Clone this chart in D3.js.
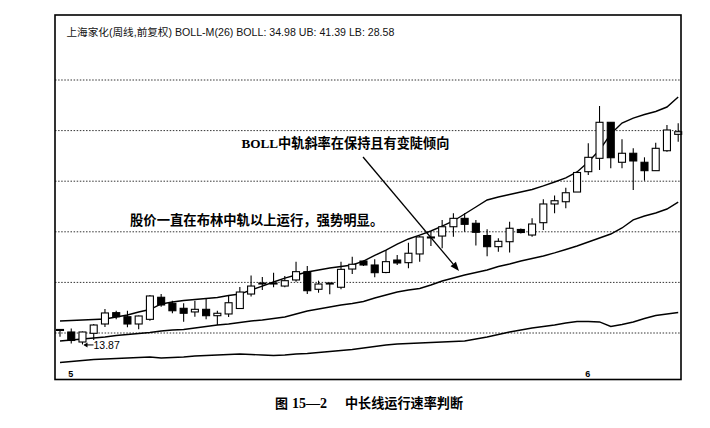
<!DOCTYPE html>
<html><head><meta charset="utf-8">
<script src="https://cdn.jsdelivr.net/npm/d3@7/dist/d3.min.js"></script>
<style>html,body{margin:0;padding:0;background:#fff;} svg{display:block;}</style>
</head><body>
<svg id="c" width="710" height="428"></svg>
<script>
// ---- data (weekly candles, price units) ----
const titleText = "上海家化(周线,前复权) BOLL-M(26) BOLL: 34.98 UB: 41.39 LB: 28.58";
const opens  = [15.25,15.10,14.11,14.97,15.89,17.01,16.61,15.89,16.35,18.53,17.93,17.44,17.08,17.34,16.71,16.88,17.42,18.85,19.89,19.89,19.64,20.24,21.06,19.32,19.84,19.52,21.32,22.11,21.72,20.98,22.21,21.95,22.81,24.39,24.58,25.50,26.33,25.84,24.63,23.53,24.02,25.23,24.68,25.90,27.75,27.97,28.93,30.94,32.26,35.82,31.87,32.76,31.87,31.04,33.01,34.63];
const closes = [15.35,14.26,15.10,15.79,16.98,16.61,15.89,16.68,18.66,17.77,17.20,16.95,17.34,16.71,16.95,17.99,19.05,19.64,19.94,19.94,20.17,21.06,19.18,19.84,19.94,21.29,21.79,21.72,20.96,22.05,21.92,22.88,24.49,24.49,25.50,26.33,25.74,24.95,23.53,24.06,25.35,24.93,25.77,27.75,28.07,28.86,30.86,32.36,35.82,32.32,32.76,32.00,31.04,33.25,35.06,34.89];
const highs  = [15.40,15.44,15.15,15.89,17.37,17.20,17.20,16.73,18.75,18.85,18.19,17.93,18.19,18.43,17.20,18.66,19.55,20.68,20.53,20.96,20.63,22.05,21.62,20.17,19.97,22.05,22.54,22.16,22.28,23.20,22.71,23.92,24.58,25.01,26.17,26.83,26.83,26.17,25.25,24.36,26.00,25.33,26.33,28.21,28.59,29.35,30.86,33.75,37.43,35.82,34.14,33.25,32.36,33.80,35.55,35.72];
const lows   = [14.63,13.96,13.87,14.31,15.59,16.35,15.56,15.37,16.22,17.60,16.95,16.12,16.61,16.35,15.79,16.58,17.37,18.61,19.25,19.52,19.52,20.07,18.85,18.98,18.82,19.32,20.83,21.62,20.50,20.90,21.72,21.39,22.05,23.60,23.37,24.52,25.01,23.65,22.58,23.03,22.95,24.83,24.52,25.18,26.83,27.32,28.93,30.61,31.11,31.27,31.27,29.13,30.05,31.04,32.92,33.90];
const upperLine  = [16.19,16.24,16.28,16.33,16.38,16.58,16.78,17.08,17.32,17.87,18.06,18.21,18.31,18.41,18.51,18.71,18.85,19.25,19.64,20.04,20.43,20.73,21.03,21.23,21.42,21.57,21.72,22.11,22.66,23.20,23.79,24.29,24.68,25.08,25.57,26.07,26.76,27.45,28.14,28.44,28.69,28.93,29.18,29.53,29.92,30.32,30.91,31.90,33.08,34.66,35.75,36.24,36.59,36.89,37.33,38.32];
const middleLine = [14.21,14.31,14.41,14.51,14.60,14.75,14.85,14.95,15.05,15.20,15.30,15.35,15.49,15.64,15.79,15.89,16.04,16.19,16.28,16.43,16.58,16.88,17.17,17.37,17.57,17.77,17.91,18.11,18.46,18.75,19.05,19.25,19.40,19.74,20.14,20.43,20.73,20.98,21.23,21.57,21.82,22.11,22.36,22.61,22.91,23.25,23.60,23.99,24.39,24.78,25.38,26.17,26.56,26.86,27.25,27.94];
const lowerLine  = [12.09,12.18,12.28,12.38,12.43,12.48,12.53,12.58,12.63,12.53,12.58,12.63,12.73,12.78,12.83,12.88,12.92,12.88,12.83,12.78,12.83,12.92,12.97,13.07,13.17,13.27,13.37,13.52,13.66,13.81,13.91,13.96,14.01,14.06,14.11,14.16,14.21,14.41,14.60,14.85,15.10,15.30,15.49,15.64,15.79,15.99,16.14,16.14,16.09,15.64,15.84,16.09,16.43,16.73,16.88,17.03];
const gridPrices = [15, 20, 25, 30, 35, 40];
const xTickIndex = [1, 47];
const xTickLabels = ["5", "6"];
const lowMarkIndex = 2;
const lowMarkLabel = "13.87";
const noteSlope = "BOLL中轨斜率在保持且有变陡倾向";
const noteAbove = "股价一直在布林中轨以上运行，强势明显。";
const captionFig = "图";
const captionNum = "15—2";
const captionText = "中长线运行速率判断";

// ---- drawing ----
const svg = d3.select("#c");
const frame = {l: 55, t: 15, r: 681, b: 379.5};
const x = d3.scaleLinear().domain([0, opens.length - 1]).range([60, 678.2]);
const y = d3.scaleLinear().domain([15, 40]).range([333, 80]);

function fit(sel, w) {
  const fs = +sel.attr("font-size");
  const len = sel.node().getComputedTextLength();
  if (len > 0) sel.attr("font-size", (fs * w / len).toFixed(2));
  return sel;
}

// grid
svg.append("g").selectAll("line").data(gridPrices).join("line")
  .attr("x1", frame.l).attr("x2", frame.r)
  .attr("y1", d => y(d)).attr("y2", d => y(d))
  .attr("stroke", "#333").attr("stroke-width", 1)
  .attr("stroke-dasharray", "1.5,1.6");

// bands
const line = d3.line().x((d, i) => x(i)).y(d => y(d));
[upperLine, middleLine, lowerLine].forEach(arr => {
  svg.append("path").attr("d", line(arr)).attr("fill", "none")
    .attr("stroke", "#000").attr("stroke-width", 1.4);
});

// candles
const idx = d3.range(opens.length);
const cg = svg.append("g");
cg.selectAll("line").data(idx).join("line")
  .attr("x1", i => x(i)).attr("x2", i => x(i))
  .attr("y1", i => y(highs[i])).attr("y2", i => y(lows[i]))
  .attr("stroke", "#000").attr("stroke-width", 1.1);
const bw = 7;
cg.selectAll("rect").data(idx).join("rect")
  .attr("x", i => x(i) - bw / 2)
  .attr("width", bw)
  .attr("y", i => y(Math.max(opens[i], closes[i])))
  .attr("height", i => Math.max(1, Math.abs(y(opens[i]) - y(closes[i]))))
  .attr("fill", i => closes[i] >= opens[i] ? "#fff" : "#000")
  .attr("stroke", "#000").attr("stroke-width", 1.1);

// frame
svg.append("rect").attr("x", frame.l).attr("y", frame.t)
  .attr("width", frame.r - frame.l).attr("height", frame.b - frame.t)
  .attr("fill", "none").attr("stroke", "#000").attr("stroke-width", 1.6);

// header
fit(svg.append("text").attr("x", 66.5).attr("y", 36)
  .attr("font-family", "'Liberation Sans','Noto Sans CJK SC',sans-serif")
  .attr("font-size", 10.5).attr("fill", "#111").text(titleText), 328);

// low label
const lx = x(lowMarkIndex), ly = y(lows[lowMarkIndex]) + 0.5;
svg.append("line").attr("x1", lx + 2).attr("x2", lx + 11).attr("y1", ly).attr("y2", ly)
  .attr("stroke", "#000").attr("stroke-width", 1);
svg.append("path").attr("d", `M${lx + 1},${ly} l4,-2.5 l0,5 z`).attr("fill", "#000");
svg.append("text").attr("x", lx + 11).attr("y", ly + 4)
  .attr("font-family", "'Liberation Sans',sans-serif").attr("font-size", 10.5)
  .attr("fill", "#000").text(lowMarkLabel);

// x markers
svg.append("g").selectAll("text").data(xTickIndex).join("text")
  .attr("x", d => x(d) - 0.5).attr("y", 377)
  .attr("text-anchor", "middle")
  .attr("font-family", "'Liberation Sans',sans-serif").attr("font-weight", "bold")
  .attr("font-size", 9).text((d, i) => xTickLabels[i]);

// annotations
fit(svg.append("text").attr("x", 241.5).attr("y", 148)
  .attr("font-family", "'Liberation Serif','Noto Sans CJK SC',serif").attr("font-weight", "bold")
  .attr("font-size", 12).attr("fill", "#000").text(noteSlope), 208);
fit(svg.append("text").attr("x", 130).attr("y", 225)
  .attr("font-family", "'Noto Sans CJK SC',sans-serif").attr("font-weight", "bold")
  .attr("font-size", 13.2).attr("fill", "#000").text(noteAbove), 253);

// arrow (anchored in data space)
const ax1 = x(26.96), ay1 = y(32.39), ax2 = x(35.5), ay2 = y(21.13);
const ang = Math.atan2(ay2 - ay1, ax2 - ax1);
const hl = 9, hw = 3.5;
const bx = ax2 - hl * Math.cos(ang), by = ay2 - hl * Math.sin(ang);
svg.append("line").attr("x1", ax1).attr("y1", ay1).attr("x2", bx).attr("y2", by)
  .attr("stroke", "#000").attr("stroke-width", 1.3);
svg.append("path").attr("d",
  `M${ax2},${ay2} L${bx + hw * Math.sin(ang)},${by - hw * Math.cos(ang)} L${bx - hw * Math.sin(ang)},${by + hw * Math.cos(ang)} Z`)
  .attr("fill", "#000");

// caption
const capFont = "'Noto Sans CJK SC',sans-serif";
svg.append("text").attr("x", 275).attr("y", 408).attr("font-family", capFont)
  .attr("font-weight", "bold").attr("font-size", 13).text(captionFig);
fit(svg.append("text").attr("x", 292).attr("y", 408).attr("font-family", "'Liberation Serif',serif")
  .attr("font-weight", "bold").attr("font-size", 13).text(captionNum), 35);
fit(svg.append("text").attr("x", 345).attr("y", 408).attr("font-family", capFont)
  .attr("font-weight", "bold").attr("font-size", 13).text(captionText), 118);
</script>
</body></html>
